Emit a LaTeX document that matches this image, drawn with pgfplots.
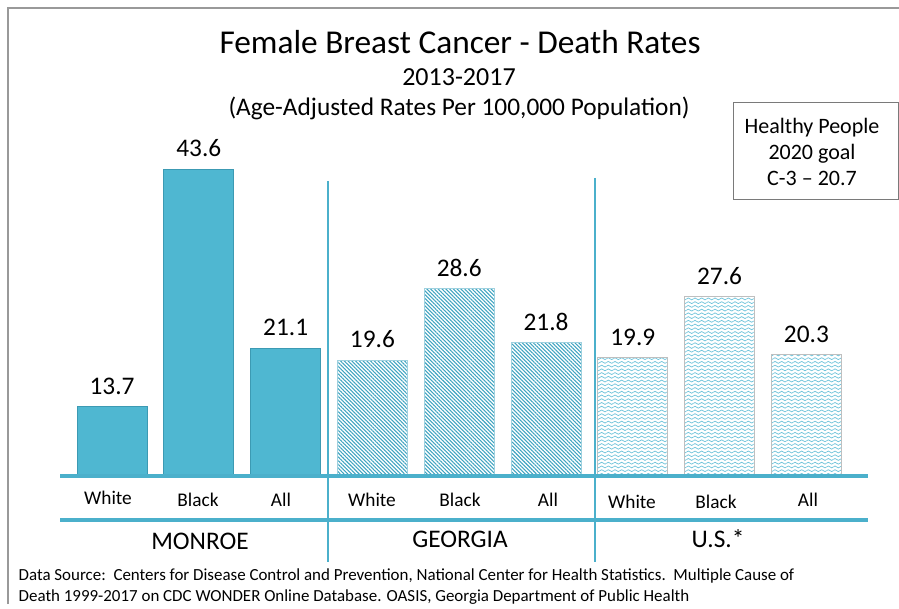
\documentclass[border=0pt]{standalone}
\usepackage{pgfplots}
\pgfplotsset{compat=1.18}
\usetikzlibrary{patterns.meta}
\usepackage{fontspec}
\setmainfont{Carlito}
\definecolor{barfill}{HTML}{4FB7D1}
\definecolor{bardraw}{HTML}{3C9AB3}
\definecolor{linec}{HTML}{4BB0CB}
\definecolor{stripec}{HTML}{3FA3C0}
\definecolor{wavec}{HTML}{6FC3DA}
\definecolor{framec}{HTML}{999999}
\tikzdeclarepattern{
  name=waves, type=uncolored,
  bounding box={(0,-1.4pt) and (5pt,1.4pt)},
  tile size={(5pt,2.8pt)},
  code={\draw[line width=0.55pt] (0,0) sin (1.25pt,0.7pt) cos (2.5pt,0) sin (3.75pt,-0.7pt) cos (5pt,0);}
}
\begin{document}
\begin{tikzpicture}
\begin{scope}[x=0.75pt,y=-0.75pt,yshift=453pt]
\path[use as bounding box] (0,0) rectangle (899,604);
\draw[framec,line width=1pt] (8,604) -- (8,8) -- (899,8);
\node[font=\fontsize{25}{30}\selectfont] at (460,42) {Female Breast Cancer - Death Rates};
\node[font=\fontsize{19.5}{23}\selectfont] at (459,77) {2013-2017};
\node[font=\fontsize{19}{23}\selectfont] at (459,108) {(Age-Adjusted Rates Per 100,000 Population)};
\draw[framec!80!black,line width=0.75pt] (733,103) rectangle (898,200);
\node[font=\fontsize{16.5}{19.5}\selectfont,align=center] at (812,152) {Healthy People\\2020 goal\\C-3 -- 20.7};
\end{scope}
\begin{axis}[
  at={(45pt,96pt)}, anchor=south west,
  scale only axis, width=606pt, height=268pt,
  xmin=-0.6, xmax=8.71, ymin=5, ymax=50,
  axis lines=none, clip=false,
  ybar, bar width=52.5pt, bar shift=0pt,
  /pgf/number format/assume math mode=true,
  /pgf/number format/.cd, fixed, precision=1, fixed zerofill,
  /pgfplots/.cd,
  nodes near coords,
  every node near coord/.append style={font=\fontsize{19}{23}\selectfont, yshift=5.5pt, text=black},
]
\addplot[fill=barfill, draw=bardraw, line width=0.8pt] coordinates {(0,13.7) (1,43.6) (2,21.1)};
\addplot[draw=stripec!50, line width=0.5pt, pattern={Lines[angle=-45,distance=2pt,line width=0.8pt]}, pattern color=stripec] coordinates {(3,19.6) (4,28.6) (5,21.8)};
\addplot[draw=black!25, line width=0.5pt, pattern=waves, pattern color=wavec] coordinates {(6,19.9) (7,27.6) (8,20.3)};
\end{axis}
\begin{scope}[x=0.75pt,y=-0.75pt,yshift=453pt]
\draw[linec,line width=2.6pt] (60,476) -- (868,476);
\draw[linec,line width=2.6pt] (60,520) -- (868,520);
\draw[linec,line width=2.2pt] (328,181) -- (328,562);
\draw[linec,line width=2.2pt] (595,178) -- (595,562);
\begin{scope}[every node/.style={font=\fontsize{14.5}{17}\selectfont}]
\node at (108,498) {White};
\node at (198,500) {Black};
\node at (281,500) {All};
\node at (372,500) {White};
\node at (460,500) {Black};
\node at (548,500) {All};
\node at (632,502) {White};
\node at (716,502) {Black};
\node at (808,500) {All};
\end{scope}
\begin{scope}[every node/.style={font=\fontsize{19}{22}\selectfont}]
\node at (200,541) {MONROE};
\node at (460,539) {GEORGIA};
\node at (718,539) {U.S.*};
\end{scope}
\node[anchor=west,font=\fontsize{12.7}{15}\selectfont] at (14,576) {Data Source:\ \ Centers for Disease Control and Prevention, National Center for Health Statistics.\ \ Multiple Cause of};
\node[anchor=west,font=\fontsize{12.7}{15}\selectfont] at (14,597) {Death 1999-2017 on CDC WONDER Online Database. OASIS, Georgia Department of Public Health};
\end{scope}
\end{tikzpicture}
\end{document}
